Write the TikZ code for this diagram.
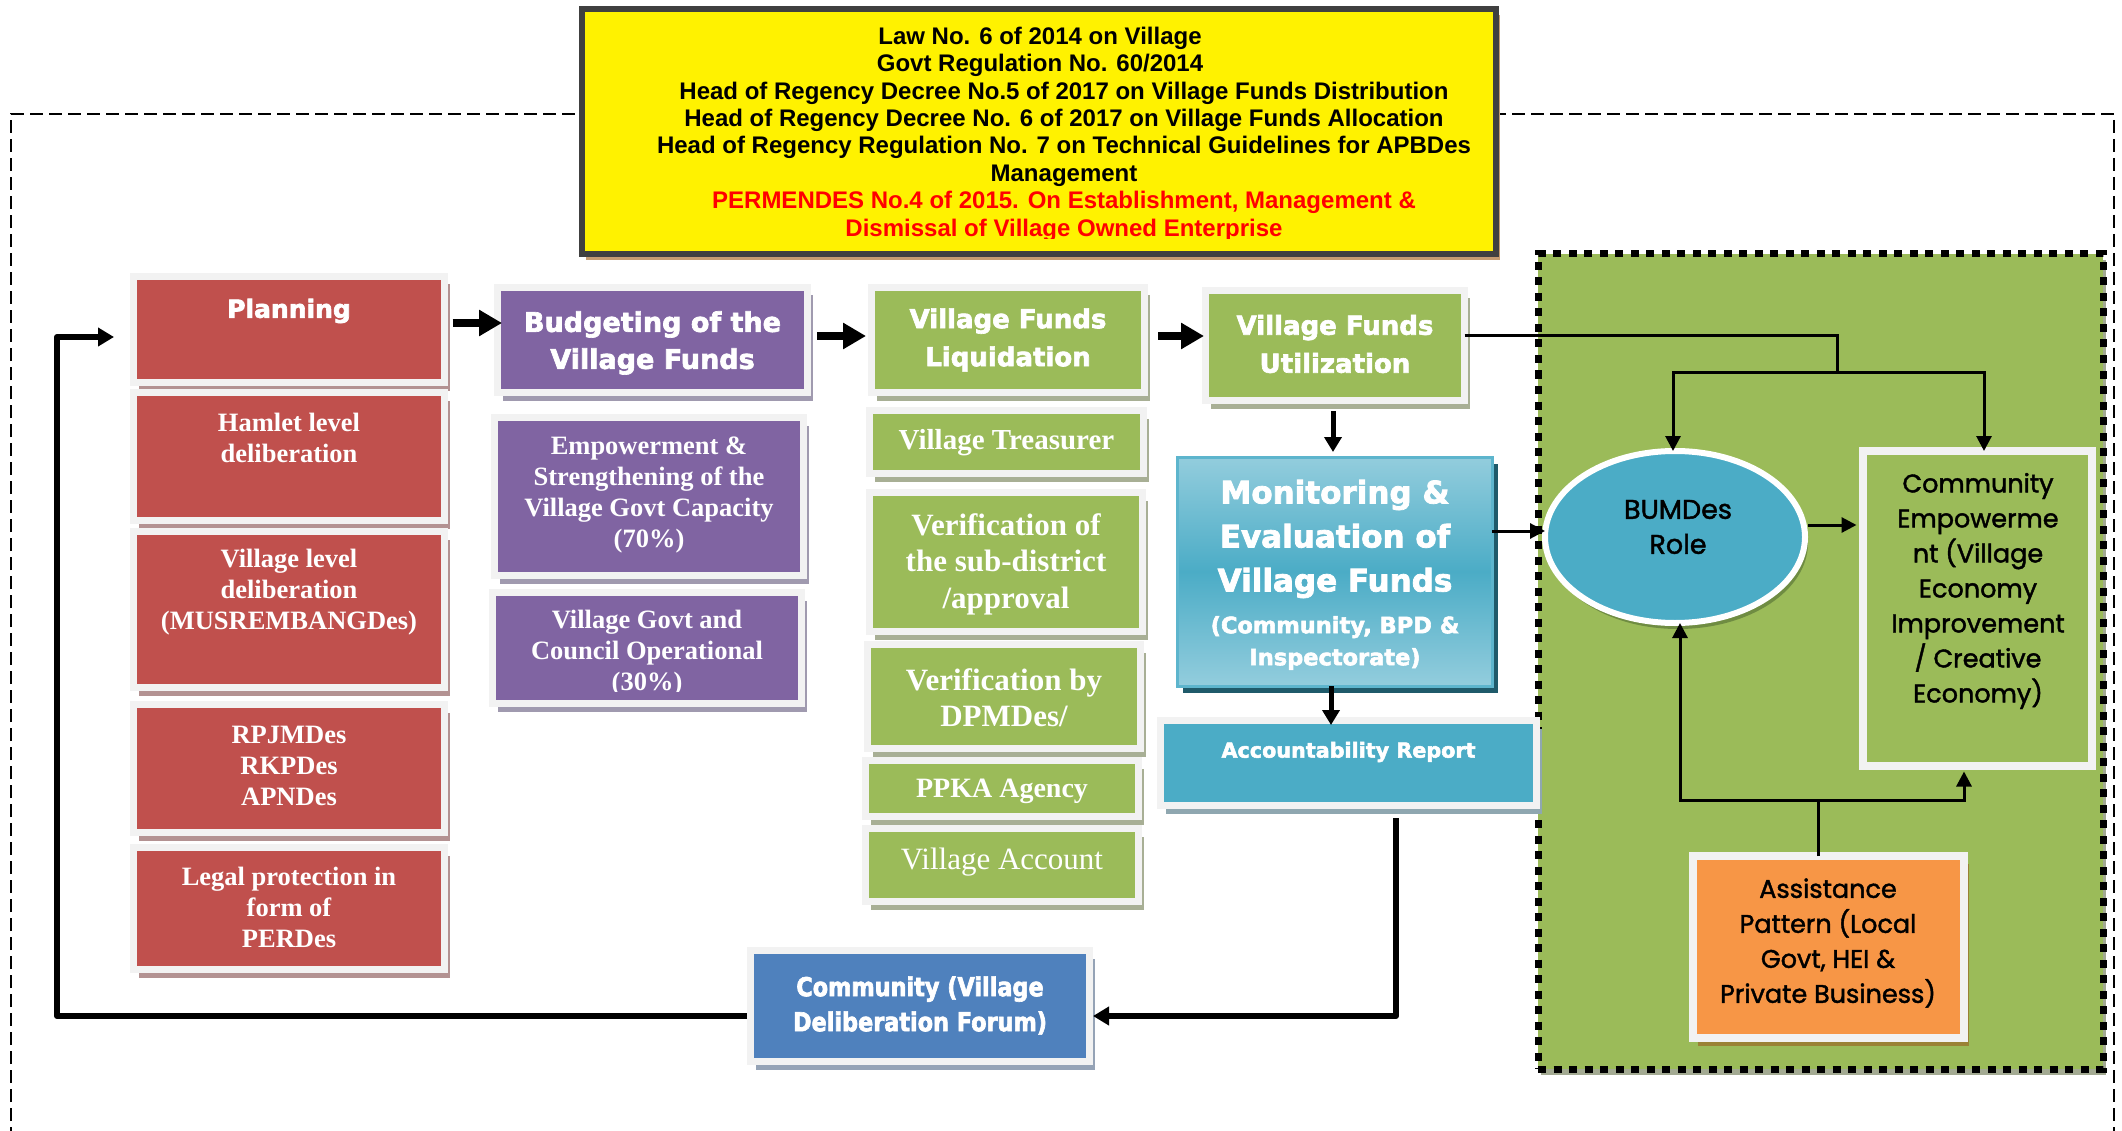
\documentclass[tikz,border=0pt]{standalone}
\usepackage{fontspec}
\usetikzlibrary{arrows.meta,shadows,shapes.geometric}
\setmainfont{Liberation Serif}
\newfontfamily\hd[FakeBold=2.5]{DejaVu Sans Bold}
\newfontfamily\hdc[FakeBold=2.5,FakeStretch=0.86]{DejaVu Sans Bold}
\newfontfamily\ars{Liberation Sans}
\newfontfamily\geo[FakeBold=1.6]{Poppins}
\definecolor{redc}{HTML}{C0504D}
\definecolor{purc}{HTML}{8064A2}
\definecolor{grnc}{HTML}{9BBB59}
\definecolor{aquac}{HTML}{4BACC6}
\definecolor{bluec}{HTML}{4F81BD}
\definecolor{orgc}{HTML}{F79646}
\definecolor{framec}{HTML}{F2F2F2}
\definecolor{redsh}{HTML}{B39292}
\definecolor{pursh}{HTML}{A09AAF}
\definecolor{grnsh}{HTML}{A8AF95}
\definecolor{aquash}{HTML}{8FA7B0}
\definecolor{bluesh}{HTML}{95A3B6}
\definecolor{monlight}{HTML}{93CDDD}
\definecolor{monbord}{HTML}{5DB5CD}
\definecolor{monsh}{HTML}{1F5A6A}
\definecolor{ylwbord}{HTML}{404040}
\definecolor{ylwsh}{HTML}{C59C72}
\definecolor{orgsh}{HTML}{9A8235}
\definecolor{ellsh}{HTML}{6F8C42}
\definecolor{zonesh}{HTML}{A3AA92}
\definecolor{lawred}{HTML}{FF0000}
\tikzset{
  fbox/.style 2 args={draw=framec, line width=7pt, fill=#1, outer sep=0pt, inner sep=0pt,
    drop shadow={shadow xshift=5.5pt, shadow yshift=-8pt, fill=#2, opacity=1}},
  redbox/.style={fbox={redc}{redsh}},
  purbox/.style={fbox={purc}{pursh}},
  grnbox/.style={fbox={grnc}{grnsh}},
  aquabox/.style={fbox={aquac}{aquash}},
  bluebox/.style={fbox={bluec}{bluesh}},
  txt/.style={align=center, inner sep=0pt, outer sep=0pt},
  wtxt/.style={txt, text=white},
  sert/.style={wtxt, font=\bfseries\fontsize{26.5}{31}\selectfont},
  vert/.style={wtxt, font=\bfseries\fontsize{31}{36.5}\selectfont},
  geot/.style={txt, text=black, font=\geo\fontsize{25.5}{35}\selectfont},
  bigarr/.style={line width=8pt, -{Triangle[length=23pt,width=25pt]}},
  downarr/.style={line width=5pt, -{Triangle[length=15pt,width=17pt]}},
  looparr/.style={line width=6pt, line join=round, -{Triangle[length=16pt,width=18pt]}},
  thinline/.style={line width=3pt},
  thinarr/.style={line width=3pt, -{Triangle[length=15pt,width=15pt]}},
}
\begin{document}
\begin{tikzpicture}[x=1pt,y=-1pt]
\useasboundingbox (0,0) rectangle (2122,1131);
\fill[white] (0,0) rectangle (2122,1131);

% outer dashed frame
\draw[line width=1.6pt, dash pattern=on 13pt off 6pt] (11,1140) -- (11,114) -- (2114,114) -- (2114,1140);

% legal basis box
\node[draw=ylwbord, line width=6pt, fill=yellow, minimum width=914pt, minimum height=245pt,
  inner sep=0pt, outer sep=0pt, drop shadow={shadow xshift=4pt, shadow yshift=-6pt, fill=ylwsh, opacity=1}] (law) at (1039,131.5) {};
\begin{scope}
\clip (585,12) rectangle (1493,239);
\node[txt, font=\ars\bfseries\fontsize{24}{27.4}\selectfont] (lawT) at (1064,134)
 {Law No. 6 of 2014 on Village\kern48pt\null\\
  Govt Regulation No. 60/2014\kern48pt\null\\
  Head of Regency Decree No.5 of 2017 on Village Funds Distribution\\
  Head of Regency Decree No. 6 of 2017 on Village Funds Allocation\\
  Head of Regency Regulation No. 7 on Technical Guidelines for APBDes\\
  Management\\
  \textcolor{lawred}{PERMENDES No.4 of 2015. On Establishment, Management \&}\\
  \textcolor{lawred}{Dismissal of Village Owned Enterprise}};
\end{scope}

% green zone
\node[draw=black, line width=7pt, dash pattern=on 8pt off 7.5pt, fill=grnc, minimum width=565pt, minimum height=815pt,
  inner sep=0pt, outer sep=0pt, drop shadow={shadow xshift=3pt, shadow yshift=-6pt, fill=zonesh, opacity=1}] (zone) at (1820.5,661.5) {};

% planning column
\node[redbox, minimum width=311pt, minimum height=106pt] (plan) at (289,329.5) {};
\node[wtxt, font=\hd\fontsize{25}{30}\selectfont] (planT) at (289,311) {Planning};
\node[redbox, minimum width=311pt, minimum height=128pt] (hamlet) at (289,456.5) {};
\node[sert] (hamletT) at (289,438) {Hamlet level\\deliberation};
\node[redbox, minimum width=311pt, minimum height=156pt] (vlev) at (289,609.5) {};
\node[sert] (vlevT) at (289,592) {Village level\\deliberation\\(MUSREMBANGDes)};
\node[redbox, minimum width=311pt, minimum height=128pt] (rpjm) at (289,768.5) {};
\node[sert] (rpjmT) at (289,766) {RPJMDes\\RKPDes\\APNDes};
\node[redbox, minimum width=311pt, minimum height=122pt] (legal) at (289,908.5) {};
\node[sert] (legalT) at (289,907) {Legal protection in\\form of\\PERDes};

% budgeting column
\node[purbox, minimum width=310pt, minimum height=105pt] (budget) at (652.5,340) {};
\node[wtxt, font=\hd\fontsize{27}{37}\selectfont] (budgetT) at (652.5,343) {Budgeting of the\\Village Funds};
\node[purbox, minimum width=309pt, minimum height=158pt] (empow) at (649,496.5) {};
\node[sert] (empowT) at (649,495) {Empowerment \&\\Strengthening of the\\Village Govt Capacity\\(70\%)};
\node[purbox, minimum width=309pt, minimum height=111pt] (govt) at (647,648) {};
\begin{scope}
\clip (496,596) rectangle (798,691);
\node[sert] (govtT) at (647,653) {Village Govt and\\Council Operational\\(30\%)};
\end{scope}

% liquidation column
\node[grnbox, minimum width=273pt, minimum height=105pt] (liq) at (1008,340) {};
\node[wtxt, font=\hd\fontsize{26}{38}\selectfont] (liqT) at (1008,340) {Village Funds\\Liquidation};
\node[grnbox, minimum width=274pt, minimum height=63pt] (treas) at (1006.5,442) {};
\node[wtxt, font=\bfseries\fontsize{29}{34}\selectfont] (treasT) at (1006.5,443) {Village Treasurer};
\node[grnbox, minimum width=273pt, minimum height=139pt] (ver1) at (1006,562) {};
\node[vert] (ver1T) at (1006,564) {Verification of\\the sub-district\\/approval};
\node[grnbox, minimum width=273pt, minimum height=104pt] (ver2) at (1004,696.5) {};
\node[vert] (ver2T) at (1004,697.5) {Verification by\\DPMDes/};
\node[grnbox, minimum width=273pt, minimum height=56pt] (ppka) at (1002,788.5) {};
\node[wtxt, font=\bfseries\fontsize{28}{32}\selectfont] (ppkaT) at (1002,791) {PPKA Agency};
\node[grnbox, minimum width=273pt, minimum height=73pt] (vacc) at (1002,865) {};
\node[wtxt, font=\fontsize{31}{36}\selectfont] (vaccT) at (1002,862) {Village Account};

% utilization, monitoring, report
\node[grnbox, minimum width=259pt, minimum height=110pt] (util) at (1335,345.5) {};
\node[wtxt, font=\hd\fontsize{26}{38}\selectfont] (utilT) at (1335,344) {Village Funds\\Utilization};
\node[draw=monbord, line width=3pt, top color=monlight, bottom color=monlight, middle color=aquac,
  minimum width=315pt, minimum height=229pt, inner sep=0pt, outer sep=0pt,
  drop shadow={shadow xshift=6pt, shadow yshift=-7pt, fill=monsh, opacity=1}] (mon) at (1334.5,571.5) {};
\node[wtxt, font=\hd\fontsize{31}{44}\selectfont] (monT) at (1335,539) {Monitoring \&\\Evaluation of\\Village Funds};
\node[wtxt, font=\hd\fontsize{22.5}{32}\selectfont] (monS) at (1335,643) {(Community, BPD \&\\Inspectorate)};
\node[aquabox, minimum width=376pt, minimum height=85pt] (acc) at (1348.5,763) {};
\node[wtxt, font=\hd\fontsize{20.7}{25}\selectfont] (accT) at (1348.5,752) {Accountability Report};

% community forum
\node[bluebox, minimum width=339pt, minimum height=111pt] (comm) at (920,1006) {};
\node[wtxt, font=\hdc\fontsize{26}{35}\selectfont] (commT) at (920,1005.5) {Community (Village\\Deliberation Forum)};

% BUMDes zone content
\node[ellipse, draw=white, line width=6pt, fill=aquac, minimum width=260pt, minimum height=172pt,
  inner sep=0pt, outer sep=0pt, drop shadow={shadow xshift=3pt, shadow yshift=-6pt, fill=ellsh, opacity=1}] (bum) at (1675,537) {};
\node[geot, font=\geo\fontsize{27}{35}\selectfont] (bumT) at (1678,527) {BUMDes\\Role};
\node[draw=framec, line width=8pt, fill=grnc, minimum width=229pt, minimum height=315pt, inner sep=0pt, outer sep=0pt] (ce) at (1977.5,608.5) {};
\node[geot] (ceT) at (1978,591) {Community\\Empowerme\\nt (Village\\Economy\\Improvement\\/ Creative\\Economy)};
\node[draw=framec, line width=8pt, fill=orgc, minimum width=271pt, minimum height=182pt, inner sep=0pt, outer sep=0pt,
  drop shadow={shadow xshift=5pt, shadow yshift=-8pt, fill=orgsh, opacity=1}] (asst) at (1828.5,947) {};
\node[geot] (asstT) at (1828,943) {Assistance\\Pattern (Local\\Govt, HEI \&\\Private Business)};

% main flow arrows
\draw[bigarr] ([xshift=8pt,yshift=6.5pt]plan.east) -- ([xshift=4.5pt,yshift=17pt]budget.west);
\draw[bigarr] ([xshift=9.5pt,yshift=4pt]budget.east) -- ([xshift=-5.5pt,yshift=4pt]liq.west);
\draw[bigarr] ([xshift=13.5pt,yshift=4pt]liq.east) -- ([xshift=-1.5pt,yshift=9.5pt]util.west);
\draw[downarr] ([xshift=-2pt,yshift=-10.5pt]util.south) -- ([xshift=-1.5pt,yshift=5pt]mon.north);
\draw[downarr] ([xshift=-3.5pt]mon.south) -- ([xshift=-17.5pt,yshift=-4.5pt]acc.north);

% feedback loop
\coordinate (loopc) at (57,1016);
\draw[looparr] ([xshift=47.5pt,yshift=-12.5pt]acc.south) |- ([xshift=3.5pt,yshift=-10pt]comm.east);
\draw[looparr] ([xshift=-3.5pt,yshift=-10pt]comm.west) -- (loopc) |- ([xshift=-19.5pt,yshift=-7.5pt]plan.west);

% BUMDes connectors
\coordinate (usplit) at (1837,372);
\draw[thinline] ([yshift=9.5pt]util.east) -| (usplit);
\draw[thinarr] (usplit) -| ([xshift=-2pt]bum.north);
\draw[thinarr] (usplit) -| ([xshift=6.5pt]ce.north);
\draw[thinarr] ([yshift=40.5pt]mon.east) -- ([yshift=6pt]bum.west);
\draw[thinarr] ([xshift=3pt,yshift=12pt]bum.east) -- ([xshift=-6.5pt,yshift=83.5pt]ce.west);
\coordinate (asplit) at (1818,800);
\draw[thinline] ([xshift=-10.5pt]asst.north) -- (asplit);
\draw[thinarr] (asplit) -| ([xshift=5pt]bum.south);
\draw[thinarr] (asplit) -| ([xshift=-13.5pt,yshift=-5.5pt]ce.south);
\end{tikzpicture}
\end{document}
